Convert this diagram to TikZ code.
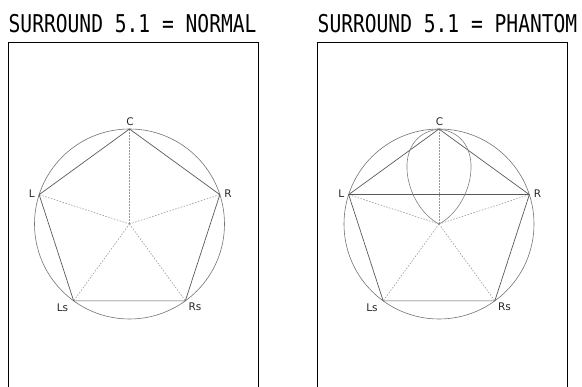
\documentclass[tikz,border=0pt]{standalone}
\usepackage{fontspec}
\setmainfont{DejaVu Sans}
\newfontfamily\titlefont{DejaVu Sans Mono}
\usepackage{graphicx}
\begin{document}
\begin{tikzpicture}[x=1pt,y=-1pt,
  frame/.style={draw=black, line width=0.9pt},
  edge/.style={draw=black!65, line width=0.7pt},
  spoke/.style={draw=black!40, line width=0.6pt, dash pattern=on 1.5pt off 1.5pt},
  ring/.style={draw=black!55, line width=0.6pt},
  lens/.style={draw=black!50, line width=0.6pt},
  lbl/.style={font=\fontsize{10.5}{12}\selectfont, inner sep=0pt, text=black!85},
  ttl/.style={font=\titlefont\fontsize{24.5}{26}\selectfont, inner sep=0pt, anchor=base west}]
\useasboundingbox (0,0) rectangle (582,387);
% titles
\node[ttl] (t1) at (8.5,33) {\scalebox{0.8}[1]{SURROUND 5.1 = NORMAL}};
\node[ttl] (t2) at (317.5,33) {\scalebox{0.8}[1]{SURROUND 5.1 = PHANTOM}};
% frames
\draw[frame] (8.3,387) -- (8.3,42) -- (258.3,42) -- (258.3,387);
\draw[frame] (317.8,387) -- (317.8,42) -- (567.8,42) -- (567.8,387);
% left panel
\begin{scope}
  \coordinate (aO) at (129.5,224);
  \coordinate (aC) at (129.5,129);
  \coordinate (aR) at (219.85,194.64);
  \coordinate (aL) at (39.15,194.64);
  \coordinate (aRs) at (185.34,300.86);
  \coordinate (aLs) at (73.66,300.86);
  \draw[ring] (aO) circle[radius=95];
  \foreach \v in {aC,aR,aL,aRs,aLs} \draw[spoke] (aO) -- (\v);
  \draw[edge] (aC) -- (aR) -- (aRs) -- (aLs) -- (aL) -- cycle;
  \node[lbl] (aCt) at (130,122) {C};
  \node[lbl] (aLt) at (31.7,194) {L};
  \node[lbl] (aRt) at (228,194) {R};
  \node[lbl] (aLst) at (62.5,307.5) {Ls};
  \node[lbl] (aRst) at (195,307) {Rs};
\end{scope}
% right panel
\begin{scope}[shift={(309.5,0)}]
  \coordinate (bO) at (129.5,224);
  \coordinate (bC) at (129.5,129);
  \coordinate (bR) at (219.85,194.64);
  \coordinate (bL) at (39.15,194.64);
  \coordinate (bRs) at (185.34,300.86);
  \coordinate (bLs) at (73.66,300.86);
  \draw[ring] (bO) circle[radius=95];
  \foreach \v in {bC,bR,bL,bRs,bLs} \draw[spoke] (bO) -- (\v);
  \draw[edge] (bC) -- (bR) -- (bRs) -- (bLs) -- (bL) -- cycle;
  \draw[edge] (bL) -- (bR);
  \draw[lens] (bC) .. controls (80.5,135) and (93.5,205) .. (bO);
  \draw[lens] (bC) .. controls (178.5,135) and (165.5,205) .. (bO);
  \node[lbl] (bCt) at (130,122) {C};
  \node[lbl] (bLt) at (31.7,194) {L};
  \node[lbl] (bRt) at (228,194) {R};
  \node[lbl] (bLst) at (62.5,307.5) {Ls};
  \node[lbl] (bRst) at (195,307) {Rs};
\end{scope}
\end{tikzpicture}
\end{document}
